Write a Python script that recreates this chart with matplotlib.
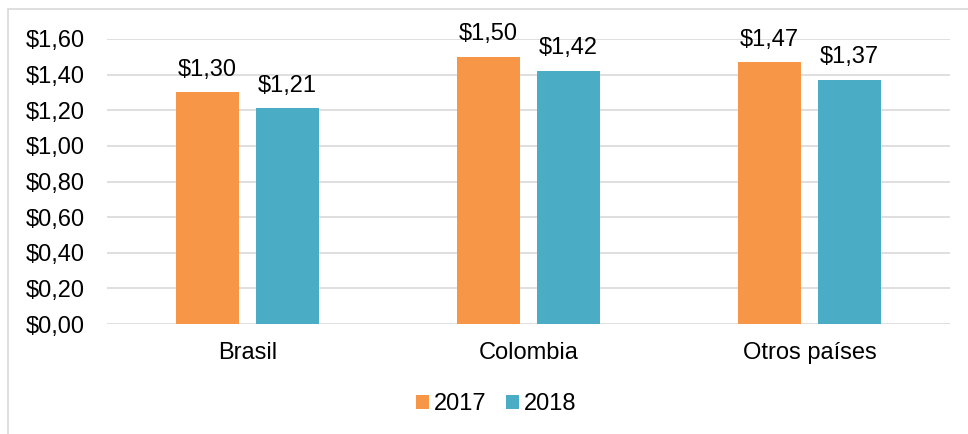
import matplotlib.pyplot as plt
import numpy as np
from matplotlib.patches import Rectangle

plt.rcParams['font.family'] = ['Liberation Sans', 'DejaVu Sans']

categories = ['Brasil', 'Colombia', 'Otros países']
values_2017 = [1.30, 1.50, 1.47]
values_2018 = [1.21, 1.42, 1.37]
labels_2017 = ['$1,30', '$1,50', '$1,47']
labels_2018 = ['$1,21', '$1,42', '$1,37']
yticks = [0.0, 0.2, 0.4, 0.6, 0.8, 1.0, 1.2, 1.4, 1.6]
ytick_labels = ['$0,00', '$0,20', '$0,40', '$0,60', '$0,80', '$1,00', '$1,20', '$1,40', '$1,60']

c2017 = '#F79646'
c2018 = '#4BACC6'
size = 17

fig = plt.figure(figsize=(9.68, 4.34), dpi=100)
ax = fig.add_axes([107/968, 1 - 324/434, (950 - 107)/968, (324 - 39)/434])

x = np.arange(len(categories))
width = 0.224
off = 0.142
b1 = ax.bar(x - off, values_2017, width, color=c2017, label='2017', zorder=3)
b2 = ax.bar(x + off, values_2018, width, color=c2018, label='2018', zorder=3)

for bars, labs in [(b1, labels_2017), (b2, labels_2018)]:
    for b, t in zip(bars, labs):
        ax.text(b.get_x() + b.get_width()/2, b.get_height() + 0.065, t,
                ha='center', va='bottom', fontsize=size, color='black')

ax.set_xlim(-0.5, 2.5)
ax.set_ylim(0, 1.6)
ax.set_yticks(yticks)
ax.set_yticklabels(ytick_labels)
ax.set_xticks(x)
ax.set_xticklabels(categories)
ax.tick_params(axis='both', length=0, labelsize=size, colors='black')
ax.tick_params(axis='y', pad=16)
ax.tick_params(axis='x', pad=13)
ax.grid(axis='y', color='#D9D9D9', linewidth=1.2, zorder=0)
ax.set_axisbelow(True)
for s in ax.spines.values():
    s.set_visible(False)

ax.legend(loc='center', bbox_to_anchor=(496/968, 1 - 404/434),
          bbox_transform=fig.transFigure, ncol=2, frameon=False,
          fontsize=size, handlelength=0.55, handleheight=0.55,
          handletextpad=0.2, columnspacing=0.85)

fig.patches.append(Rectangle((8/968, -0.05), 1.0, 1 - 9/434 + 0.05,
                             transform=fig.transFigure, fill=False,
                             edgecolor='#D9D9D9', linewidth=1.2))

fig.savefig('out.png', dpi=100)
